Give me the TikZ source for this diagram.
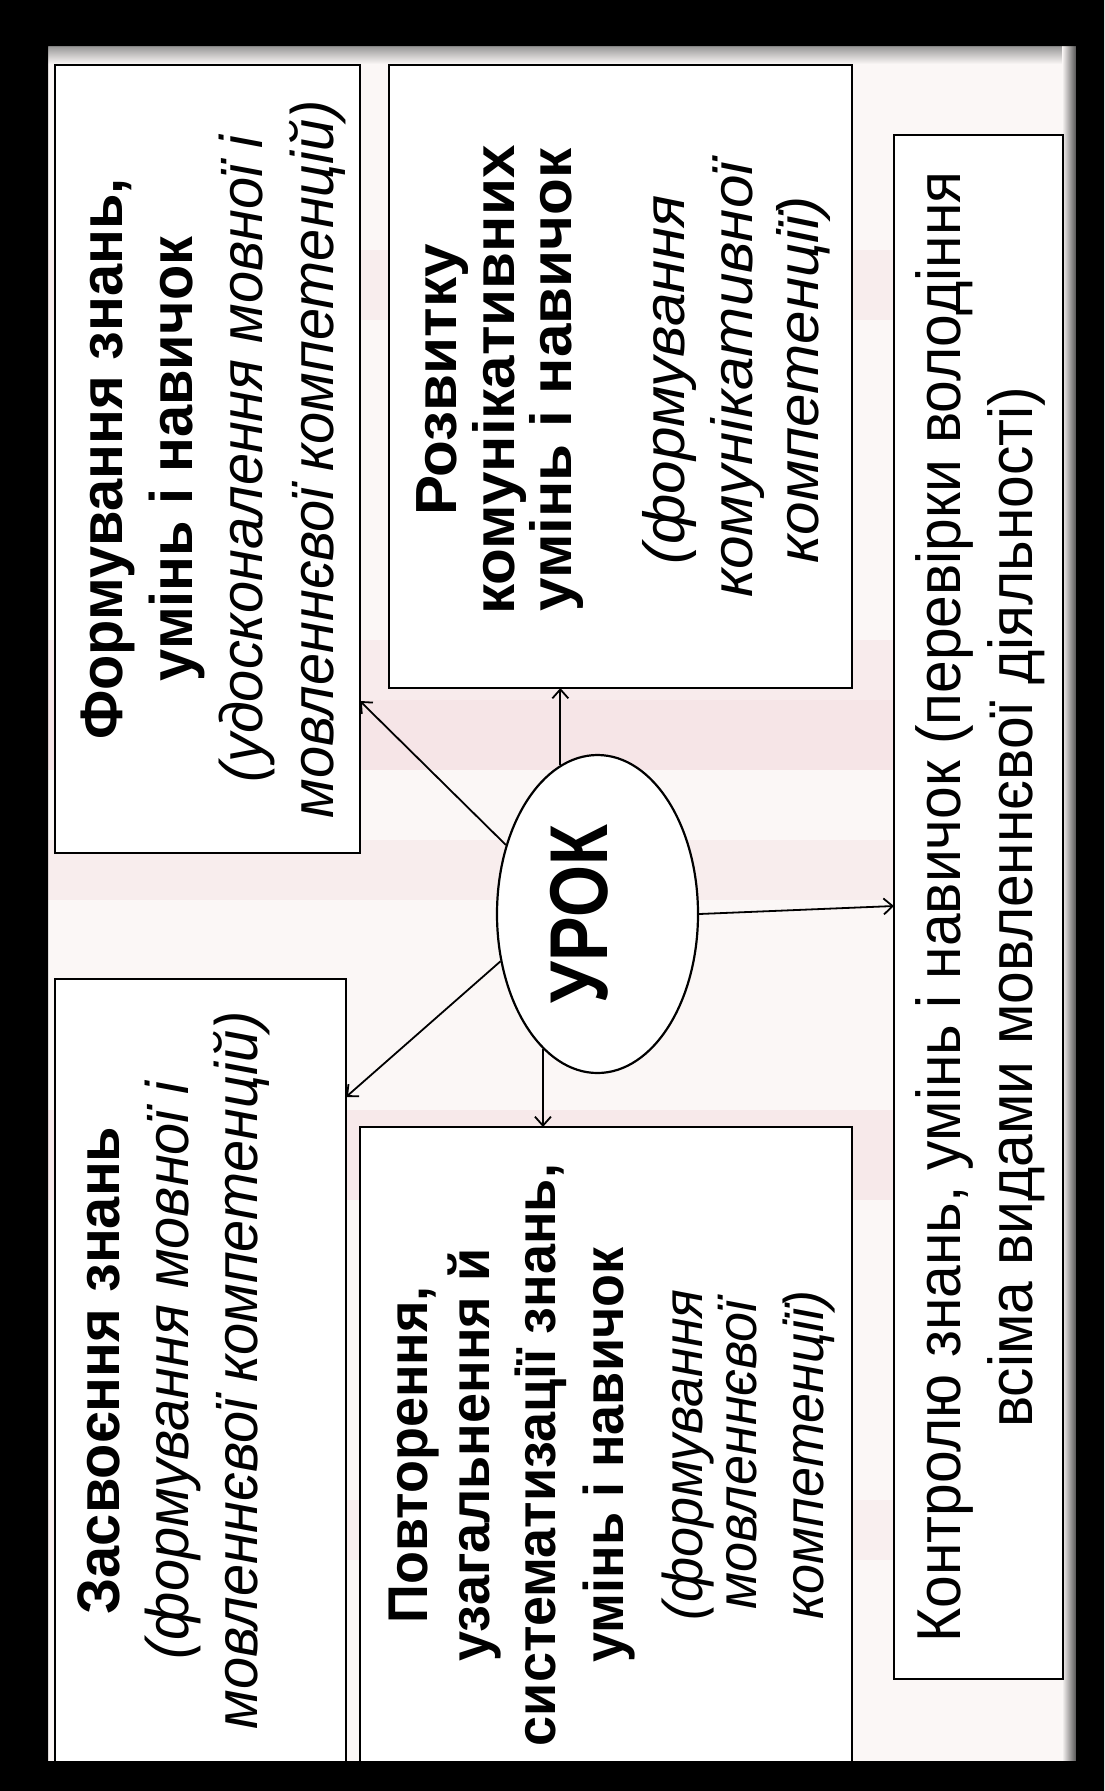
\documentclass[tikz,border=0pt]{standalone}
\usepackage{fontspec}
\setmainfont{Liberation Sans}
\usetikzlibrary{arrows.meta,shapes.geometric}
\definecolor{bgc}{RGB}{251,247,246}
\definecolor{pinkc}{RGB}{246,228,230}
\newlength\tw
\makeatletter
\newcommand\wid[2]{\settowidth\tw{#2}\xdef#1{\strip@pt\tw}}
\makeatother
\newcommand\gset[2]{\pgfmathsetmacro#1{#2}\global\let#1#1}
\newcommand\fA{\fontsize{60}{70}\selectfont}
\newcommand\fB{\fontsize{58}{66}\selectfont}
\newcommand\fD{\fontsize{56}{64}\selectfont}
\newcommand\fE{\fontsize{62}{72}\selectfont}
\newcommand\fU{\fontsize{82}{90}\selectfont\bfseries}
\begin{document}
% ---- calibration of text widths against the reference
\wid\wAa{\fA\bfseries Формування знань,}%
\wid\wAb{\fA\bfseries умінь і навичок}%
\wid\wAc{\fA\itshape (удосконалення мовної і}%
\wid\wAd{\fA\itshape мовленнєвої компетенцій)}%
\gset\sA{(568+434+664+704)/(\wAa+\wAb+\wAc+\wAd)}%
\wid\wBa{\fB\bfseries Розвитку}%
\wid\wBb{\fB\bfseries комунікативних}%
\wid\wBc{\fB\bfseries умінь і навичок}%
\wid\wBd{\fB\itshape (формування}%
\wid\wBe{\fB\itshape комунікативної}%
\wid\wBf{\fB\itshape компетенції)}%
\gset\sB{1.03*(255+433+465+371+420+364)/(\wBa+\wBb+\wBc+\wBd+\wBe+\wBf)}%
\wid\wCa{\fA\bfseries Засвоєння знань}%
\wid\wCb{\fA\itshape (формування мовної і}%
\wid\wCc{\fA\itshape мовленнєвої компетенцій)}%
\gset\cC{((1122+\sA*\wCa/2)+(1077+\sA*\wCb/2)+(1020+\sA*\wCc/2))/3}%
\wid\wDa{\fD\bfseries Повторення,}%
\wid\wDb{\fD\bfseries узагальнення й}%
\wid\wDc{\fD\bfseries систематизації знань,}%
\wid\wDd{\fD\bfseries умінь і навичок}%
\wid\wDe{\fD\itshape (формування}%
\wid\wDf{\fD\itshape мовленнєвої}%
\wid\wDg{\fD\itshape компетенції)}%
\gset\sD{(343+412+567+419+347+302+327)/(\wDa+\wDb+\wDc+\wDd+\wDe+\wDf+\wDg)}%
\wid\wEa{\fE Контролю знань, умінь і навичок (перевірки володіння}%
\gset\sE{1471/\wEa}%
\wid\wU{\fU УРОК}%
\gset\sU{178/\wU}%
\begin{tikzpicture}[x=1pt,y=-1pt,
  box/.style={draw=black, line width=2.6pt, fill=white, rectangle, inner sep=0pt, outer sep=0pt, anchor=north west},
  ln/.style={rotate=90, anchor=base, inner sep=0pt, outer sep=0pt},
  arr/.style={line width=1.8pt, -{Straight Barb[length=9pt,width=16pt]}},
]
\useasboundingbox (0,0) rectangle (1104,1791);
% ---- background
\fill[bgc] (40,40) rectangle (1080,1770);
\fill[pinkc, opacity=0.6] (40,640) rectangle (1080,700);
\fill[pinkc, opacity=0.9] (40,700) rectangle (1080,770);
\fill[pinkc, opacity=0.5] (40,840) rectangle (1080,900);
\fill[pinkc, opacity=0.5] (40,250) rectangle (1080,320);
\fill[pinkc, opacity=0.7] (40,1110) rectangle (1080,1200);
\fill[pinkc, opacity=0.4] (40,1500) rectangle (1080,1560);
\shade[top color=black!45, bottom color=bgc] (40,44) rectangle (1080,64);
\shade[left color=bgc, right color=black!75] (1062,40) rectangle (1078,1770);
% ---- boxes
\node[box, minimum width=305, minimum height=788] (A) at (55,65) {};
\node[box, minimum width=463, minimum height=623] (B) at (389,65) {};
\node[box, minimum width=291, minimum height=850] (C) at (55,979) {};
\node[box, minimum width=492, minimum height=700] (D) at (360,1127) {};
\node[box, minimum width=169, minimum height=1544] (E) at (894,135) {};
% ---- ellipse
\node[ellipse, draw=black, line width=2.2pt, fill=white, minimum width=201, minimum height=318, inner sep=0pt] (urok) at (597.5,914) {};
% ---- arrows
\draw[arr] (urok.143) -- (A.east |- 0,701);
\draw[arr] (urok.104) -- (urok.104 |- B.south);
\draw[arr] (urok.206) -- (C.east |- 0,1097);
\draw[arr] (urok.248) -- (urok.248 |- D.north);
\draw[arr] (urok.0) -- (E.west |- 0,906);
% ---- texts: box A
\node[ln] (a1) at (122,459) {\scalebox{\sA}[1]{\fA\bfseries Формування знань,}};
\node[ln] (a2) at (192,459) {\scalebox{\sA}[1]{\fA\bfseries умінь і навичок}};
\node[ln] (a3) at (262,459) {\scalebox{\sA}[1]{\fA\itshape (удосконалення мовної і}};
\node[ln] (a4) at (333,459) {\scalebox{\sA}[1]{\fA\itshape мовленнєвої компетенцій)}};
% box B
\node[ln] (b1) at (456,380) {\scalebox{\sB}[1]{\fB\bfseries Розвитку}};
\node[ln] (b2) at (514,380) {\scalebox{\sB}[1]{\fB\bfseries комунікативних}};
\node[ln] (b3) at (571,380) {\scalebox{\sB}[1]{\fB\bfseries умінь і навичок}};
\node[ln] (b4) at (684,380) {\scalebox{\sB}[1]{\fB\itshape (формування}};
\node[ln] (b5) at (752,380) {\scalebox{\sB}[1]{\fB\itshape комунікативної}};
\node[ln] (b6) at (818,380) {\scalebox{\sB}[1]{\fB\itshape компетенції)}};
% box C
\node[ln] (c1) at (119,\cC) {\scalebox{\sA}[1]{\fA\bfseries Засвоєння знань}};
\node[ln] (c2) at (188,\cC) {\scalebox{\sA}[1]{\fA\itshape (формування мовної і}};
\node[ln] (c3) at (257,\cC) {\scalebox{\sA}[1]{\fA\itshape мовленнєвої компетенцій)}};
% box D
\node[ln] (d1) at (427,1455) {\scalebox{\sD}[1]{\fD\bfseries Повторення,}};
\node[ln] (d2) at (489,1455) {\scalebox{\sD}[1]{\fD\bfseries узагальнення й}};
\node[ln] (d3) at (555,1455) {\scalebox{\sD}[1]{\fD\bfseries систематизації знань,}};
\node[ln] (d4) at (623,1455) {\scalebox{\sD}[1]{\fD\bfseries умінь і навичок}};
\node[ln] (d5) at (702,1455) {\scalebox{\sD}[1]{\fD\itshape (формування}};
\node[ln] (d6) at (756,1455) {\scalebox{\sD}[1]{\fD\itshape мовленнєвої}};
\node[ln] (d7) at (823,1455) {\scalebox{\sD}[1]{\fD\itshape компетенції)}};
% box E
\node[ln] (e1) at (960,907) {\scalebox{\sE}[1]{\fE Контролю знань, умінь і навичок (перевірки володіння}};
\node[ln] (e2) at (1032,907) {\scalebox{\sE}[1]{\fE всіма видами мовленнєвої діяльності)}};
% ellipse text
\node[ln] (u) at (607,914) {\scalebox{\sU}[1]{\fU УРОК}};
% ---- frame
\fill[black, even odd rule] (0,0) rectangle (1104,1791) (48,46) rectangle (1076,1761);
\end{tikzpicture}
\end{document}
